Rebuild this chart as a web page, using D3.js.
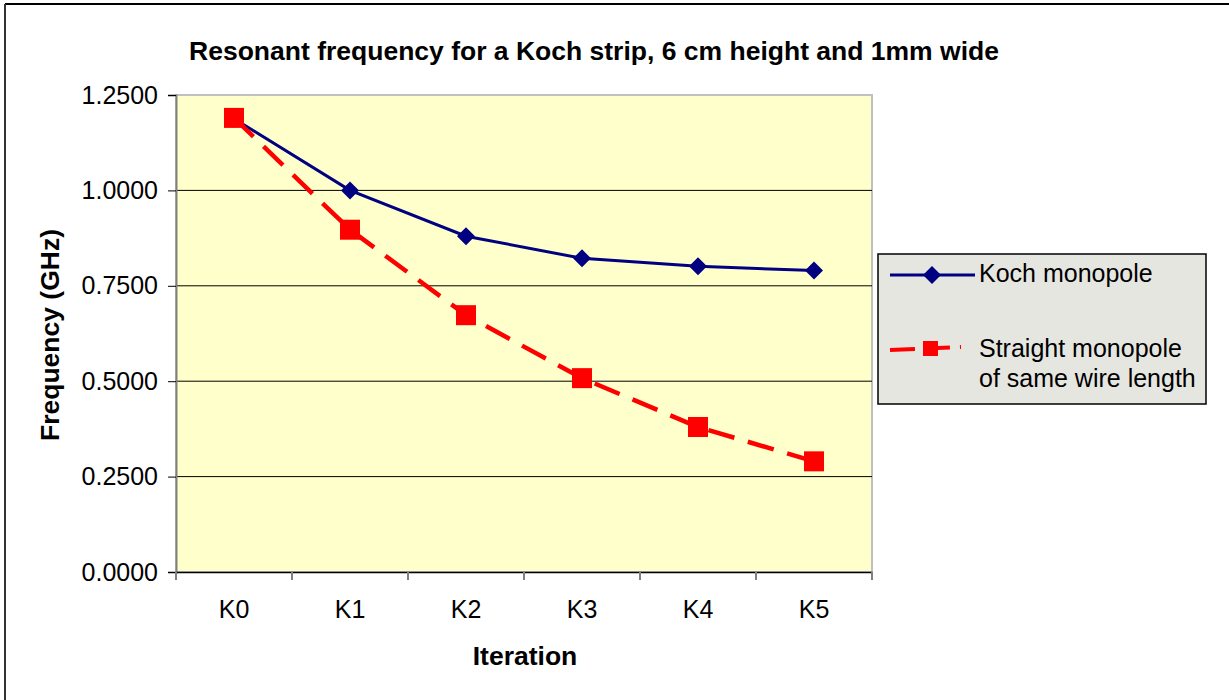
<!DOCTYPE html>
<html><head><meta charset="utf-8">
<script src="https://cdn.jsdelivr.net/npm/d3@7"></script>
<style>body{margin:0;background:#fff;}svg{display:block;font-family:"Liberation Sans",Arial,sans-serif;}</style>
</head><body><svg id="c" width="1229" height="700"></svg>
<script>
const categories = ["K0","K1","K2","K3","K4","K5"];
const kochValues = [1.188, 1.000, 0.880, 0.822, 0.801, 0.790];
const straightValues = [1.190, 0.897, 0.673, 0.508, 0.380, 0.290];
const yTicks = [0, 0.25, 0.5, 0.75, 1.0, 1.25];
const seriesNames = ["Koch monopole", ["Straight monopole","of same wire length"]];

const FF = "Liberation Sans, Arial, sans-serif";
const svg = d3.select("#c");
const L=176, R=872, T=95, B=572;
const x = d3.scaleBand().domain(categories).range([L,R]);
const y = d3.scaleLinear().domain([0,1.25]).range([B,T]);

// outer border
svg.append("line").attr("x1",5).attr("x2",1229).attr("y1",4).attr("y2",4).attr("stroke","#000").attr("stroke-width",2);
svg.append("line").attr("x1",5).attr("x2",5).attr("y1",4).attr("y2",700).attr("stroke","#333").attr("stroke-width",2);

// plot area
svg.append("rect").attr("x",L).attr("y",T).attr("width",R-L).attr("height",B-T).attr("fill","#ffffcc").attr("stroke","#c0c0c0").attr("stroke-width",2);
// gridlines
svg.append("g").selectAll("line").data(yTicks.filter(d=>d>0 && d<1.25)).join("line")
  .attr("x1",L).attr("x2",R).attr("y1",d=>y(d)).attr("y2",d=>y(d)).attr("stroke","#000").attr("stroke-width",1);

// y axis
const ya = svg.append("g").attr("transform",`translate(${L},0)`)
  .call(d3.axisLeft(y).tickValues(yTicks).tickFormat(d3.format(".4f")).tickSize(8).tickPadding(10));
ya.attr("font-size",25).attr("font-family",FF);
ya.select(".domain").attr("stroke","#808080").attr("stroke-width",2);
ya.selectAll(".tick line").attr("stroke","#000");
ya.selectAll("text").attr("fill","#000");

// x axis
const xa = svg.append("g").attr("transform",`translate(0,${B})`)
  .call(d3.axisBottom(x).tickSize(0).tickPadding(28));
xa.attr("font-size",25).attr("font-family",FF);
xa.select(".domain").attr("stroke","#000").attr("stroke-width",1.5);
xa.selectAll("text").attr("fill","#000");
const bounds = categories.map(c=>x(c)).concat([R]);
svg.append("g").selectAll("line").data(bounds).join("line")
  .attr("x1",d=>d).attr("x2",d=>d).attr("y1",B).attr("y2",B+8).attr("stroke","#808080").attr("stroke-width",2);

const cx = c => x(c)+x.bandwidth()/2;
const line = d3.line().x((d,i)=>cx(categories[i])).y(d=>y(d));

svg.append("path").datum(kochValues).attr("d",line).attr("fill","none").attr("stroke","#000080").attr("stroke-width",3);
svg.append("g").selectAll("path").data(kochValues).join("path")
  .attr("transform",(d,i)=>`translate(${cx(categories[i])},${y(d)})`)
  .attr("d","M0,-9L9,0L0,9L-9,0Z").attr("fill","#000080");

svg.append("path").datum(straightValues).attr("d",line).attr("fill","none").attr("stroke","#ff0000").attr("stroke-width",4.5).attr("stroke-dasharray","27,14");
svg.append("g").selectAll("rect").data(straightValues).join("rect")
  .attr("x",(d,i)=>cx(categories[i])-10).attr("y",d=>y(d)-10).attr("width",20).attr("height",20).attr("fill","#ff0000");

// titles
svg.append("text").attr("x",594).attr("y",60).attr("text-anchor","middle").attr("font-size",26.5).attr("font-weight","bold").text("Resonant frequency for a Koch strip, 6 cm height and 1mm wide");
svg.append("text").attr("transform","translate(59,335) rotate(-90)").attr("text-anchor","middle").attr("font-size",26.5).attr("font-weight","bold").text("Frequency (GHz)");
svg.append("text").attr("x",525).attr("y",665).attr("text-anchor","middle").attr("font-size",26.5).attr("font-weight","bold").text("Iteration");

// legend
const lg = svg.append("g");
lg.append("rect").attr("x",878).attr("y",254).attr("width",328).attr("height",150).attr("fill","#e6e6e1").attr("stroke","#000").attr("stroke-width",1.5);
lg.append("line").attr("x1",890).attr("x2",975).attr("y1",275).attr("y2",275).attr("stroke","#000080").attr("stroke-width",3);
lg.append("path").attr("transform","translate(932,275)").attr("d","M0,-9L9,0L0,9L-9,0Z").attr("fill","#000080");
lg.append("text").attr("x",979).attr("y",282).attr("font-size",25).text(seriesNames[0]);
lg.append("line").attr("x1",890).attr("x2",961).attr("y1",350).attr("y2",347).attr("stroke","#ff0000").attr("stroke-width",4).attr("stroke-dasharray","25,10");
lg.append("rect").attr("x",923).attr("y",341).attr("width",15).attr("height",15).attr("fill","#ff0000");
lg.append("text").attr("x",979).attr("y",357).attr("font-size",25).text(seriesNames[1][0]);
lg.append("text").attr("x",979).attr("y",387).attr("font-size",25).text(seriesNames[1][1]);
</script></body></html>
